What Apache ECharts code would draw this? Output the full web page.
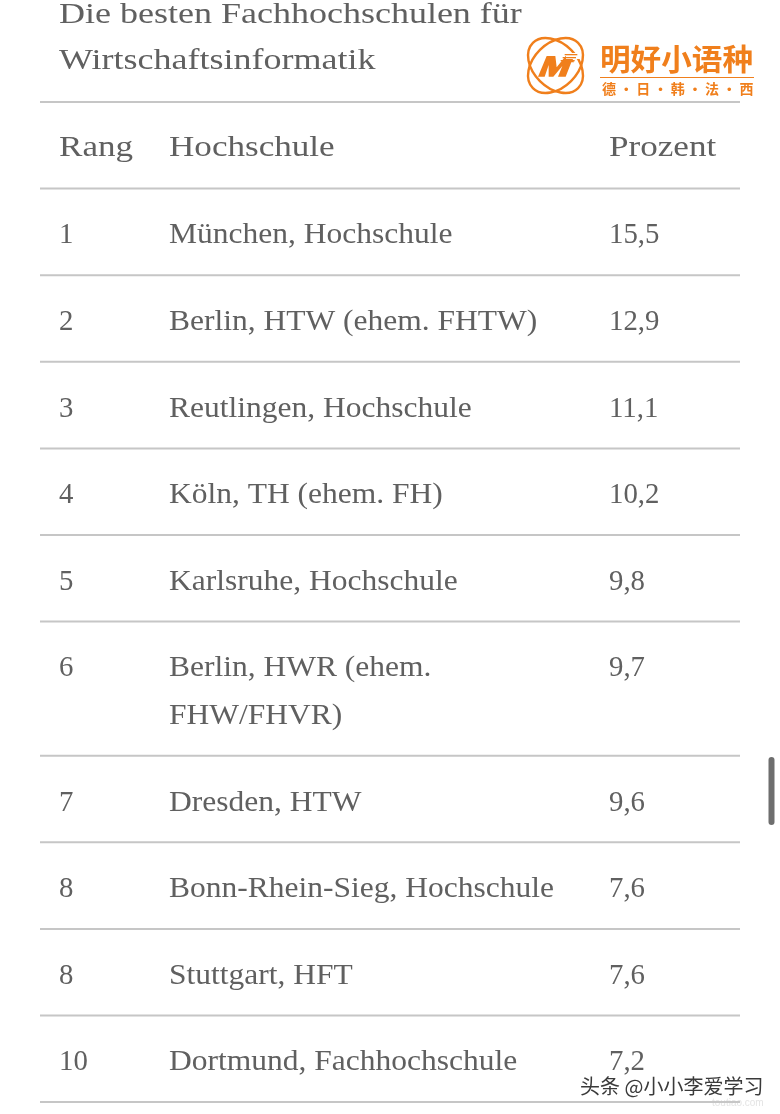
<!DOCTYPE html>
<html><head><meta charset="utf-8">
<style>html,body{margin:0;padding:0;background:#fff}#c{width:780px;height:1114px}</style>
<script src="https://cdn.jsdelivr.net/npm/echarts@6/dist/echarts.min.js"></script>
</head><body><div id="c"></div>
<script>
const titleLines = ['Die besten Fachhochschulen für', 'Wirtschaftsinformatik'];
const headers = ['Rang', 'Hochschule', 'Prozent'];
const ranks = ['1','2','3','4','5','6','7','8','8','10'];
const schools = ['München, Hochschule','Berlin, HTW (ehem. FHTW)','Reutlingen, Hochschule','Köln, TH (ehem. FH)','Karlsruhe, Hochschule','Berlin, HWR (ehem.\nFHW/FHVR)','Dresden, HTW','Bonn-Rhein-Sieg, Hochschule','Stuttgart, HFT','Dortmund, Fachhochschule'];
const percents = [15.5,12.9,11.1,10.2,9.8,9.7,9.6,7.6,7.6,7.2];

const INK = '#606060', RULE = '#c6c6c6', ORANGE = '#f07f1c';
const SERIF = '"Liberation Serif", serif';
const COLS = [59, 169, 609];
const LINE = 47.5, PAD = 86.6 - LINE, TOP = 102;
const SX = {digits: 0.96, body: 1.05, head: 1.17, title: 1.2};
const SIZE = 30;

const fmt = v => v.toFixed(1).replace('.', ',');
const rows = [{cells: headers, head: true, lines: 1}].concat(ranks.map((r, i) => ({
  cells: [r, schools[i], fmt(percents[i])], head: false, lines: schools[i].split('\n').length
})));
let acc = TOP;
rows.forEach((r) => { r.top = acc; r.h = PAD + LINE * r.lines; acc += r.h; r.bottom = acc; });

function txt(api, s, x, y, sx, font, fill) {
  const p = api.coord([x, y]);
  return {type: 'text', x: p[0], y: p[1], scaleX: sx,
    style: {text: s, font: font, fill: fill, verticalAlign: 'middle', align: 'left'}};
}
function rule(api, y) {
  const a = api.coord([40, y]), b = api.coord([740, y]);
  return {type: 'line', shape: {x1: a[0], y1: a[1], x2: b[0], y2: b[1]}, style: {stroke: RULE, lineWidth: 2}};
}
function renderRow(params, api) {
  const r = rows[api.value(0)];
  const kids = [];
  const font = `${SIZE}px ${SERIF}`;
  r.cells.forEach((c, j) => {
    const sx = r.head ? SX.head : (j === 1 ? SX.body : SX.digits);
    c.split('\n').forEach((part, k) => {
      kids.push(txt(api, part, COLS[j], r.top + (r.head ? 46 : 47) + k * LINE, sx, font, INK));
    });
  });
  kids.push(rule(api, r.bottom));
  return {type: 'group', children: kids};
}
function renderTitle(params, api) {
  const i = api.value(0);
  const kids = [txt(api, titleLines[i], 59, 15 + i * 46, SX.title, `${SIZE}px ${SERIF}`, INK)];
  if (i === 0) kids.push(rule(api, TOP));
  return {type: 'group', children: kids};
}

const logoCx = 555.5, logoCy = 65.5;
const Z = p => [518 + p[0] / 3, 30 + p[1] / 3];
const mShape = [[60,140],[86,78],[112,78],[116,112],[143,78],[160,78],[168,97],[160,97],[143,140],[120,140],[133,108],[106,140],[92,140],[92,105],[80,140]].map(Z);
const ringStyle = {fill: 'none', stroke: ORANGE, lineWidth: 2.4};
const stripe = (y, x0, x1) => ({type: 'rect', shape: {x: 518 + x0 / 3, y: 30 + y / 3, width: (x1 - x0) / 3, height: 1.3}, style: {fill: ORANGE}});
const logo = [
  {type: 'ellipse', shape: {cx: logoCx, cy: logoCy, rx: 32, ry: 22}, rotation: Math.PI / 4, originX: logoCx, originY: logoCy, style: ringStyle},
  {type: 'ellipse', shape: {cx: logoCx, cy: logoCy, rx: 32, ry: 22}, rotation: -Math.PI / 4, originX: logoCx, originY: logoCy, style: ringStyle},
  {type: 'polygon', shape: {points: mShape}, style: {fill: ORANGE}},
  {type: 'rect', shape: {x: 566, y: 53, width: 14, height: 6}, style: {fill: '#ffffff'}},
  stripe(72, 140, 178), stripe(81, 134, 174), stripe(90, 128, 170),
  {type: 'text', x: 600, y: 59, scaleX: 1.02, style: {text: '明好小语种', font: 'bold 30px "Noto Sans CJK SC"', fill: ORANGE, verticalAlign: 'middle'}},
  {type: 'rect', shape: {x: 600, y: 77, width: 154, height: 1}, style: {fill: ORANGE}},
  {type: 'text', x: 602, y: 89, style: {text: '德 · 日 · 韩 · 法 · 西', font: 'bold 14px "Noto Sans CJK SC"', fill: ORANGE, verticalAlign: 'middle'}},
  {type: 'rect', shape: {x: 768.5, y: 757, width: 6, height: 68, r: 3}, style: {fill: '#6e6e6e'}},
  {type: 'text', x: 580, y: 1086, style: {text: '头条 @小小李爱学习', font: '20px "Noto Sans CJK SC"', fill: '#3a3a3a', stroke: '#ffffff', lineWidth: 2.5, verticalAlign: 'middle'}},
  {type: 'text', x: 712, y: 1103, style: {text: 'toutiao.com', font: '10px "Liberation Sans"', fill: '#e4e4e4', verticalAlign: 'middle'}}
];

const chart = echarts.init(document.getElementById('c'), null, {renderer: 'canvas'});
chart.setOption({
  animation: false,
  backgroundColor: '#ffffff',
  grid: {left: 0, right: 0, top: 0, bottom: 0},
  xAxis: {type: 'value', min: 0, max: 780, show: false},
  yAxis: {type: 'value', min: 0, max: 1114, inverse: true, show: false},
  graphic: {elements: logo},
  series: [
    {type: 'custom', clip: false, renderItem: renderTitle, data: titleLines.map((_, i) => [i]), encode: {x: 0}, silent: true},
    {type: 'custom', clip: false, renderItem: renderRow, data: rows.map((_, i) => [i]), encode: {x: 0}, silent: true}
  ]
});
</script></body></html>
